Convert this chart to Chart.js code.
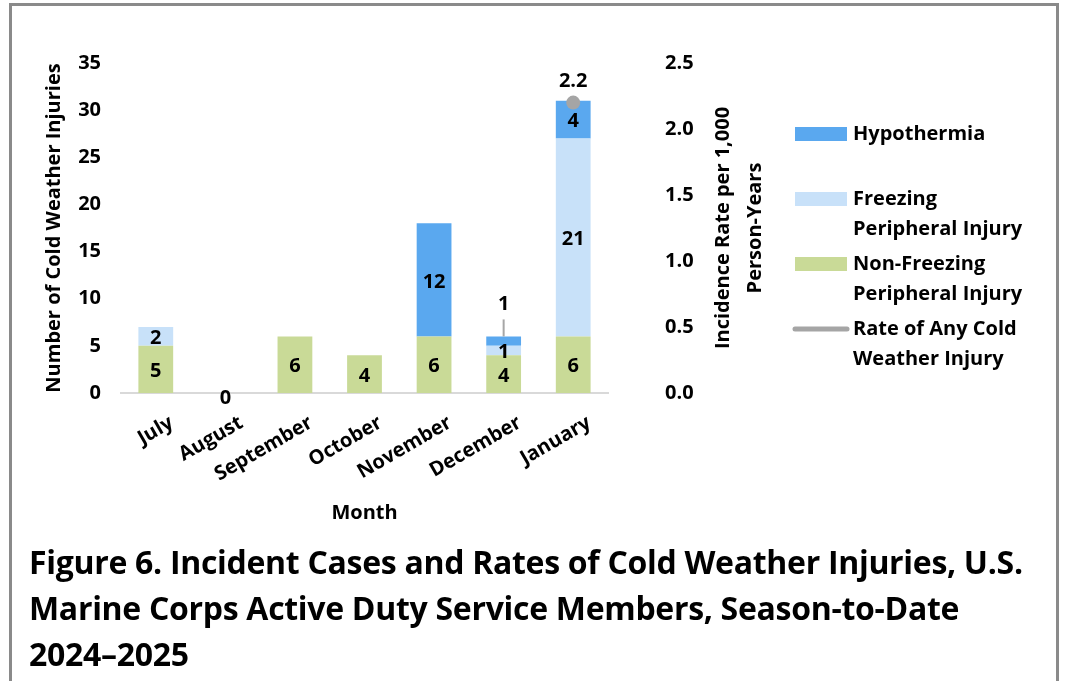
<!DOCTYPE html>
<html>
<head>
<meta charset="utf-8">
<script src="https://cdn.jsdelivr.net/npm/chart.js@4.4.1/dist/chart.umd.min.js"></script>
<style>
  body { margin: 0; background: #fff; width: 1065px; height: 681px; overflow: hidden; position: relative; font-family: "Open Sans", sans-serif; }
  #frame { position: absolute; left: 9px; top: 3px; width: 1050px; height: 720px; border: 3px solid #8a8a8a; box-sizing: border-box; }
  #chart { position: absolute; left: 0; top: 0; }
  #caption { position: absolute; left: 29px; top: 539px; font: bold 32px "Open Sans", sans-serif; line-height: 46px; color: #000; white-space: nowrap; letter-spacing: -0.3px; }
</style>
</head>
<body>
<div id="frame"></div>
<canvas id="chart" width="1065" height="540"></canvas>
<div id="caption">Figure 6. Incident Cases and Rates of Cold Weather Injuries, U.S.<br>Marine Corps Active Duty Service Members, Season-to-Date<br>2024–2025</div>
<script>
// data
const months = ['July', 'August', 'September', 'October', 'November', 'December', 'January'];
const nonFreezing = [5, 0, 6, 4, 6, 4, 6];
const freezing = [2, 0, 0, 0, 0, 1, 21];
const hypothermia = [0, 0, 0, 0, 12, 1, 4];
const rateAny = [null, null, null, null, null, null, 2.2];

const colors = {
  hypo: '#5aa8ef',
  freezing: '#c8e1f9',
  nonFreezing: '#c9da97',
  rate: '#a5a5a5'
};
const FONT = '"Open Sans", sans-serif';

// totals per month, used for the "0" label
const totals = months.map((m, i) => nonFreezing[i] + freezing[i] + hypothermia[i]);

// Value labels + custom legend + right axis title
const decorPlugin = {
  id: 'decor',
  afterDatasetsDraw(chart) {
    const ctx = chart.ctx;
    ctx.save();
    ctx.font = 'bold 20px ' + FONT;
    ctx.fillStyle = '#000';
    ctx.textAlign = 'center';
    ctx.textBaseline = 'middle';

    [0, 1, 2].forEach(di => {
      const meta = chart.getDatasetMeta(di);
      const vals = chart.data.datasets[di].data;
      meta.data.forEach((bar, i) => {
        const v = vals[i];
        if (v > 0) {
          const h = bar.base - bar.y;
          if (di === 2 && h < 15) {
            // small top segment: label above with a leader line
            ctx.strokeStyle = '#a6a6a6';
            ctx.lineWidth = 2;
            ctx.beginPath();
            ctx.moveTo(bar.x, bar.y);
            ctx.lineTo(bar.x, bar.y - 17);
            ctx.stroke();
            ctx.fillText(v, bar.x, bar.y - 32);
          } else {
            ctx.fillText(v, bar.x, (bar.y + bar.base) / 2 + 2);
          }
        } else if (di === 0 && totals[i] === 0) {
          ctx.fillText('0', bar.x, bar.base + 5);
        }
      });
    });

    const lineMeta = chart.getDatasetMeta(3);
    lineMeta.data.forEach((pt, i) => {
      if (rateAny[i] != null) ctx.fillText(rateAny[i].toFixed(1), pt.x, pt.y - 21);
    });
    ctx.restore();
  },
  afterDraw(chart) {
    const ctx = chart.ctx;
    ctx.save();
    ctx.fillStyle = '#000';
    ctx.font = 'bold 20px ' + FONT;
    ctx.textBaseline = 'middle';

    // right axis title, reading bottom to top
    ctx.save();
    ctx.translate(723, 228);
    ctx.rotate(-Math.PI / 2);
    ctx.textAlign = 'center';
    ctx.fillText('Incidence Rate per 1,000', 0, 0);
    ctx.fillText('Person-Years', 0, 32);
    ctx.restore();

    // legend
    const items = [
      { color: colors.hypo, lines: ['Hypothermia'], y: 134 },
      { color: colors.freezing, lines: ['Freezing', 'Peripheral Injury'], y: 199 },
      { color: colors.nonFreezing, lines: ['Non-Freezing', 'Peripheral Injury'], y: 264 },
      { color: colors.rate, lines: ['Rate of Any Cold', 'Weather Injury'], y: 329, line: true }
    ];
    ctx.textAlign = 'left';
    items.forEach(it => {
      if (it.line) {
        ctx.strokeStyle = it.color;
        ctx.lineWidth = 5;
        ctx.lineCap = 'round';
        ctx.beginPath();
        ctx.moveTo(795, it.y);
        ctx.lineTo(847, it.y);
        ctx.stroke();
      } else {
        ctx.fillStyle = it.color;
        ctx.fillRect(795, it.y - 7, 52, 14);
      }
      ctx.fillStyle = '#000';
      it.lines.forEach((t, k) => ctx.fillText(t, 853, it.y + k * 30));
    });
    ctx.restore();
  }
};

const ctx = document.getElementById('chart').getContext('2d');
new Chart(ctx, {
  data: {
    labels: months,
    datasets: [
      { type: 'bar', label: 'Non-Freezing Peripheral Injury', data: nonFreezing, backgroundColor: colors.nonFreezing, order: 1, yAxisID: 'y' },
      { type: 'bar', label: 'Freezing Peripheral Injury', data: freezing, backgroundColor: colors.freezing, order: 1, yAxisID: 'y' },
      { type: 'bar', label: 'Hypothermia', data: hypothermia, backgroundColor: colors.hypo, order: 1, yAxisID: 'y' },
      {
        type: 'line', label: 'Rate of Any Cold Weather Injury', data: rateAny, yAxisID: 'y1', order: 0,
        borderColor: colors.rate, borderWidth: 4, pointRadius: 7, pointBackgroundColor: colors.rate,
        pointBorderWidth: 0, spanGaps: false
      }
    ]
  },
  options: {
    responsive: false,
    animation: false,
    layout: { padding: { top: 63, right: 277, bottom: 7, left: 0 } },
    datasets: { bar: { barPercentage: 0.5, categoryPercentage: 1 } },
    plugins: { legend: { display: false }, tooltip: { enabled: false } },
    scales: {
      x: {
        stacked: true,
        grid: { display: false },
        border: { color: '#d9d9d9', width: 2 },
        ticks: { color: '#000', font: { family: FONT, size: 20, weight: 'bold' }, minRotation: 30, maxRotation: 30, padding: 10, labelOffset: 16 },
        title: { display: true, text: 'Month', color: '#000', font: { family: FONT, size: 20, weight: 'bold' }, padding: { top: 0, bottom: 8 } },
        afterFit: s => { s.height = 140; }
      },
      y: {
        stacked: true,
        min: 0, max: 35,
        // hidden tick marks only reserve the gap between labels and plot
        grid: { display: false, drawTicks: true, tickLength: 17 },
        border: { display: false },
        ticks: { stepSize: 5, color: '#000', font: { family: FONT, size: 20, weight: 'bold' }, padding: 3 },
        title: { display: true, text: 'Number of Cold Weather Injuries', color: '#000', font: { family: FONT, size: 20, weight: 'bold' }, padding: { top: 42, bottom: 0 } },
        afterFit: s => { s.width = 121; }
      },
      y1: {
        position: 'right',
        min: 0, max: 2.5,
        grid: { display: false, drawTicks: true, tickLength: 54 },
        border: { display: false },
        ticks: { stepSize: 0.5, color: '#000', font: { family: FONT, size: 20, weight: 'bold' }, padding: 3, callback: v => v.toFixed(1) },
        afterFit: s => { s.width = 180; }
      }
    }
  },
  plugins: [decorPlugin]
});
</script>
</body>
</html>
